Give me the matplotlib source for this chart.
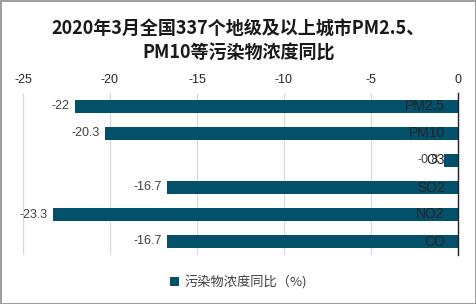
import numpy as np
import matplotlib.pyplot as plt
from matplotlib.patches import Rectangle

plt.rcParams['font.family'] = ['Liberation Sans', 'Noto Sans CJK SC', 'DejaVu Sans']

categories = ['PM2.5', 'PM10', 'O3', 'SO2', 'NO2', 'CO']
values = [-22, -20.3, -0.8, -16.7, -23.3, -16.7]
value_labels = ['-22', '-20.3', '-0.8', '-16.7', '-23.3', '-16.7']
x_ticks = [-25, -20, -15, -10, -5, 0]
title = '2020年3月全国337个地级及以上城市PM2.5、\nPM10等污染物浓度同比'
series_name = '污染物浓度同比（%)'

bar_color = '#03506b'
text_color = '#404040'

fig = plt.figure(figsize=(4.77, 3.04), dpi=100)
ax = fig.add_axes([23 / 477, 1 - 255 / 304, 435 / 477, 162 / 304])

y = np.arange(len(categories))
bars = ax.barh(y, values, height=0.5, color=bar_color, label=series_name, zorder=3)

for yi, v, lab in zip(y, values, value_labels):
    # data label left of the bar end
    ax.text(v - 0.3, yi, lab, ha='right', va='center', fontsize=9, color=text_color, zorder=4)
    # category name sits inside, next to the zero line
    ax.text(-0.75, yi, categories[yi], ha='right', va='center', fontsize=10, color='#262626', zorder=4)

ax.set_xlim(-25, 0)
ax.set_ylim(len(categories) - 0.5, -0.5)
ax.set_xticks(x_ticks)
ax.set_xticklabels([str(t) for t in x_ticks])
ax.xaxis.tick_top()
ax.tick_params(axis='x', length=0, pad=5, labelsize=9, labelcolor='#262626')
ax.set_yticks([])
ax.grid(axis='x', color='#d9d9d9', linewidth=0.9, zorder=0)
for s in ['top', 'bottom', 'left']:
    ax.spines[s].set_visible(False)
ax.spines['right'].set_color('#222222')
ax.spines['right'].set_linewidth(1.0)
ax.spines['right'].set_zorder(5)

fig.text(0.5, 1 - 41 / 304, title, ha='center', va='center', fontsize=13,
         fontweight='bold', family=['Noto Sans CJK SC'], color='#1a1a1a', linespacing=1.4)

leg = fig.legend(handles=[bars], labels=[series_name], loc='center', bbox_to_anchor=(0.5, 1 - 282 / 304),
                 frameon=False, handlelength=0.7, handleheight=0.7, handletextpad=0.4,
                 prop={'family': ['Noto Sans CJK SC'], 'size': 9.5})
for t in leg.get_texts():
    t.set_color(text_color)

fig.patches.append(Rectangle((0.5 / 477, 0.5 / 304), 1 - 1.5 / 477, 1 - 1.5 / 304, transform=fig.transFigure,
                             fill=False, edgecolor='#8c8c8c', linewidth=1.2))

fig.savefig('out.png', dpi=100)
